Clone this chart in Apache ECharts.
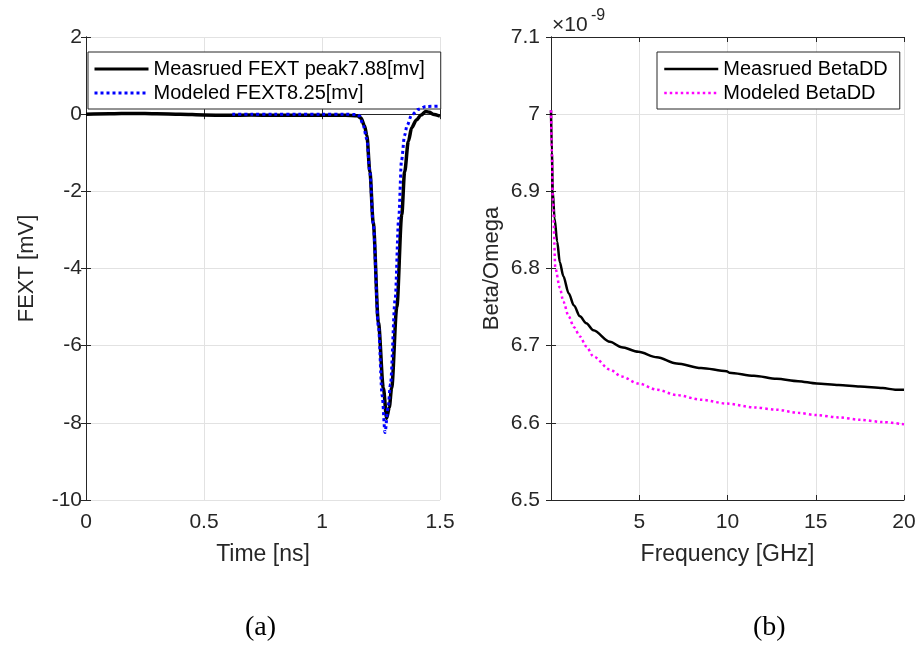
<!DOCTYPE html>
<html><head><meta charset="utf-8">
<script src="https://cdn.jsdelivr.net/npm/echarts@6/dist/echarts.min.js"></script>
<style>html,body{margin:0;padding:0;background:#fff}#c{width:919px;height:645px}</style>
</head><body><div id="c"></div>
<script>
// ---- Panel (a): FEXT vs time ----
const measuredTime = [0, 0.1, 0.2, 0.3, 0.4, 0.5, 0.6, 0.7, 0.8, 0.9, 1.0, 1.1, 1.15, 1.165, 1.18, 1.19, 1.203, 1.217, 1.239, 1.26, 1.274, 1.285, 1.295, 1.317, 1.338, 1.35, 1.366, 1.38, 1.40, 1.42, 1.44, 1.455, 1.47, 1.5];
const measuredFext = [0.0, 0.01, 0.02, 0.01, 0.0, -0.02, -0.03, -0.02, -0.03, -0.03, -0.03, -0.03, -0.04, -0.1, -0.3, -0.55, -1.5, -2.8, -5.4, -7.1, -7.88, -7.6, -7.1, -5.0, -2.6, -1.5, -0.7, -0.35, -0.15, -0.02, 0.07, 0.05, 0.0, -0.05];
const modeledTime = [0.62, 0.7, 0.8, 0.9, 1.0, 1.1, 1.15, 1.16, 1.175, 1.19, 1.203, 1.217, 1.239, 1.255, 1.267, 1.28, 1.29, 1.31, 1.325, 1.337, 1.35, 1.36, 1.38, 1.41, 1.44, 1.5];
const modeledFext = [0, 0, 0, 0, 0, 0, -0.01, -0.05, -0.3, -0.65, -1.5, -2.85, -5.5, -7.3, -8.25, -7.6, -7.0, -4.8, -2.7, -1.2, -0.55, -0.3, -0.02, 0.13, 0.2, 0.21];
const fextNames = ['Measrued FEXT peak7.88[mv]', 'Modeled FEXT8.25[mv]'];

// ---- Panel (b): Beta/Omega vs frequency (x 1e-9) ----
const measuredFreq = [0, 0.05, 0.1, 0.2, 0.35, 0.5, 0.7, 1.0, 1.3, 1.64, 2.0, 2.4, 3.34, 4.0, 4.95, 6.0, 7.12, 8.5, 9.95, 10.1, 11.5, 12.79, 14.0, 15.05, 16.3, 17.5, 18.8, 19.5, 20];
const measuredBeta = [7.005, 6.95, 6.90, 6.865, 6.835, 6.808, 6.79, 6.768, 6.752, 6.738, 6.729, 6.720, 6.705, 6.698, 6.692, 6.685, 6.677, 6.671, 6.667, 6.665, 6.661, 6.657, 6.654, 6.651, 6.649, 6.647, 6.645, 6.643, 6.643];
const modeledFreq = [0, 0.05, 0.1, 0.25, 0.5, 0.7, 1.0, 1.3, 1.64, 2.0, 2.4, 3.34, 4.0, 4.95, 6.0, 7.12, 8.5, 9.95, 11.5, 12.79, 14.0, 15.05, 16.3, 17.5, 18.8, 20];
const modeledBeta = [7.005, 6.95, 6.89, 6.80, 6.775, 6.757, 6.738, 6.724, 6.712, 6.699, 6.686, 6.669, 6.660, 6.651, 6.643, 6.636, 6.630, 6.625, 6.620, 6.617, 6.613, 6.610, 6.607, 6.604, 6.601, 6.598];
const betaNames = ['Measrued BetaDD', 'Modeled BetaDD'];

const FONT = '"Liberation Sans", Arial, sans-serif';
const AX = '#262626';
const GRIDC = '#e2e2e2';

const pairs = (xs, ys) => xs.map((x, i) => [x, ys[i]]);

function mainX(gi, min, max, interval, name, fmt) {
  return {
    type: 'value', gridIndex: gi, position: 'bottom', min, max, interval,
    name, nameLocation: 'middle', nameGap: 43,
    nameTextStyle: { fontFamily: FONT, fontSize: 23, color: AX },
    axisLine: { show: true, lineStyle: { color: AX, width: 1 } },
    axisTick: { show: true, inside: true, length: 5, lineStyle: { color: AX } },
    axisLabel: { fontFamily: FONT, fontSize: 21, color: AX, margin: 12, formatter: fmt },
    splitLine: { show: true, lineStyle: { color: GRIDC, width: 1 } }
  };
}
function sideX(gi, min, max, interval) {
  return {
    type: 'value', gridIndex: gi, position: 'top', min, max, interval,
    axisLine: { show: true, lineStyle: { color: AX, width: 1 } },
    axisTick: { show: true, inside: true, length: 5, lineStyle: { color: AX } },
    axisLabel: { show: false }, splitLine: { show: false }
  };
}
function mainY(gi, min, max, interval, name, fmt, margin, gap) {
  return {
    type: 'value', gridIndex: gi, position: 'left', min, max, interval,
    name, nameLocation: 'middle', nameGap: gap,
    nameTextStyle: { fontFamily: FONT, fontSize: 22, color: AX },
    axisLine: { show: true, lineStyle: { color: AX, width: 1 } },
    axisTick: { show: true, inside: true, length: 5, lineStyle: { color: AX } },
    axisLabel: { fontFamily: FONT, fontSize: 21, color: AX, margin, formatter: fmt },
    splitLine: { show: true, lineStyle: { color: GRIDC, width: 1 } }
  };
}
function sideY(gi, min, max, interval) {
  return {
    type: 'value', gridIndex: gi, position: 'right', min, max, interval,
    axisLine: { show: true, lineStyle: { color: AX, width: 1 } },
    axisTick: { show: true, inside: true, length: 5, lineStyle: { color: AX } },
    axisLabel: { show: false }, splitLine: { show: false }
  };
}

const fmtNum = v => String(+v.toFixed(2));
const fmtFreq = v => (v === 0 ? '' : String(v));

const legendCommon = {
  orient: 'vertical', itemWidth: 54, itemHeight: 12, itemGap: 4,
  borderColor: AX, borderWidth: 1, backgroundColor: '#fff', borderRadius: 0,
  textStyle: { fontFamily: FONT, fontSize: 20, color: '#000', lineHeight: 20 },
  itemStyle: { opacity: 0 },
  selectedMode: false
};

const option = {
  animation: false,
  backgroundColor: '#fff',
  grid: [
    { left: 86, top: 37, width: 354, height: 463, containLabel: false },
    { left: 551, top: 37, width: 353, height: 463, containLabel: false }
  ],
  xAxis: [
    mainX(0, 0, 1.5, 0.5, 'Time [ns]', fmtNum),
    sideX(0, 0, 1.5, 0.5),
    mainX(1, 0, 20, 5, 'Frequency [GHz]', fmtFreq),
    sideX(1, 0, 20, 5)
  ],
  yAxis: [
    mainY(0, -10, 2, 2, 'FEXT [mV]', fmtNum, 4, 48),
    sideY(0, -10, 2, 2),
    mainY(1, 6.5, 7.1, 0.1, 'Beta/Omega', fmtNum, 11, 48),
    sideY(1, 6.5, 7.1, 0.1)
  ],
  legend: [
    Object.assign({}, legendCommon, { left: 88, top: 52, padding: [7, 16, 6, 5], data: fextNames, lineStyle: { width: 3 } }),
    Object.assign({}, legendCommon, { left: 657, top: 52, padding: [7, 12, 6, 6], data: betaNames, lineStyle: { width: 2.5 } })
  ],
  series: [
    { name: fextNames[0], type: 'line', xAxisIndex: 0, yAxisIndex: 0, data: pairs(measuredTime, measuredFext),
      showSymbol: false, symbol: 'none', smooth: 0.3, smoothMonotone: 'x',
      lineStyle: { color: '#000', width: 3.5 }, itemStyle: { color: '#000' }, z: 3 },
    { name: fextNames[1], type: 'line', xAxisIndex: 0, yAxisIndex: 0, data: pairs(modeledTime, modeledFext),
      showSymbol: false, symbol: 'none', smooth: 0.3, smoothMonotone: 'x',
      lineStyle: { color: '#0000ff', width: 3, type: [3, 3], cap: 'butt' }, itemStyle: { color: '#0000ff' }, z: 4 },
    { name: betaNames[0], type: 'line', xAxisIndex: 2, yAxisIndex: 2, data: pairs(measuredFreq, measuredBeta),
      showSymbol: false, symbol: 'none', smooth: 0.3, smoothMonotone: 'x',
      lineStyle: { color: '#000', width: 2.5 }, itemStyle: { color: '#000' }, z: 3 },
    { name: betaNames[1], type: 'line', xAxisIndex: 2, yAxisIndex: 2, data: pairs(modeledFreq, modeledBeta),
      showSymbol: false, symbol: 'none', smooth: 0.3, smoothMonotone: 'x',
      lineStyle: { color: '#ff00ff', width: 2.5, type: [2.5, 3], cap: 'butt' }, itemStyle: { color: '#ff00ff' }, z: 4 }
  ],
  graphic: [
    { type: 'text', left: 552, top: 15, style: { text: '×10', font: '21px "Liberation Sans", Arial, sans-serif', fill: AX } },
    { type: 'text', left: 591, top: 8, style: { text: '-9', font: '16px "Liberation Sans", Arial, sans-serif', fill: AX } },
    { type: 'text', left: 245, top: 614, style: { text: '(a)', font: '28px "Liberation Serif", "Times New Roman", serif', fill: '#000' } },
    { type: 'text', left: 753, top: 614, style: { text: '(b)', font: '28px "Liberation Serif", "Times New Roman", serif', fill: '#000' } }
  ]
};

const chart = echarts.init(document.getElementById('c'), null, { renderer: 'canvas' });
chart.setOption(option);
</script>
</body></html>
